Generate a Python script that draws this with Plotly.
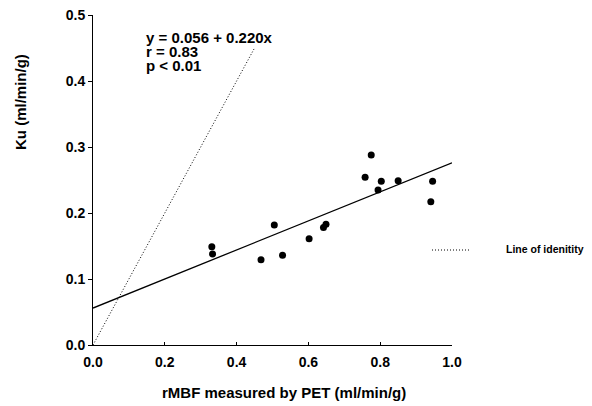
import plotly.graph_objects as go

# Data
rmbf = [0.331, 0.333, 0.468, 0.505, 0.528, 0.602, 0.642, 0.649,
        0.758, 0.775, 0.794, 0.803, 0.850, 0.941, 0.946]
ku = [0.149, 0.138, 0.129, 0.182, 0.136, 0.161, 0.178, 0.183,
      0.254, 0.288, 0.235, 0.248, 0.249, 0.217, 0.248]

intercept = 0.056
slope = 0.220
fit_x = [0.0, 1.0]
identity_x = [0.0, 0.45]

stats_lines = ["y = 0.056 + 0.220x", "r = 0.83", "p < 0.01"]
x_ticks = [0.0, 0.2, 0.4, 0.6, 0.8, 1.0]
y_ticks = [0.0, 0.1, 0.2, 0.3, 0.4, 0.5]
x_title = "rMBF measured by PET (ml/min/g)"
y_title = "Ku (ml/min/g)"
legend_label = "Line of idenitity"

FONT = "Liberation Sans, Arial, sans-serif"
DOT = "1px,2px"

W, H = 592, 406
L, T = 93, 15
R = W - 452
B = H - 345
pw, ph = W - L - R, H - T - B

def px(sx):
    return (sx - L) / pw

def py(sy):
    return (H - B - sy) / ph

fig = go.Figure()
fig.add_trace(go.Scatter(x=identity_x, y=identity_x, mode="lines",
                         line=dict(color="black", width=1, dash=DOT),
                         showlegend=False, hoverinfo="skip"))
fig.add_trace(go.Scatter(x=fit_x, y=[intercept + slope * v for v in fit_x],
                         mode="lines", line=dict(color="black", width=1.3),
                         showlegend=False, hoverinfo="skip"))
fig.add_trace(go.Scatter(x=rmbf, y=ku, mode="markers",
                         marker=dict(color="black", size=7),
                         showlegend=False))

annotations = []
for i, s in enumerate(stats_lines):
    annotations.append(dict(x=px(144), y=py(37 + 14 * i), xref="paper", yref="paper",
                            text=s, showarrow=False, xanchor="left", yanchor="middle",
                            font=dict(family=FONT, size=15, color="black", weight="bold")))
annotations.append(dict(x=px(284), y=py(392), xref="paper", yref="paper",
                        text=x_title, showarrow=False, xanchor="center", yanchor="middle",
                        font=dict(family=FONT, size=15, color="black", weight="bold")))
annotations.append(dict(x=px(20), y=py(102), xref="paper", yref="paper",
                        text=y_title, showarrow=False, textangle=-90,
                        xanchor="center", yanchor="middle",
                        font=dict(family=FONT, size=15, color="black", weight="bold")))
annotations.append(dict(x=px(504), y=py(249), xref="paper", yref="paper",
                        text=legend_label, showarrow=False, xanchor="left", yanchor="middle",
                        font=dict(family=FONT, size=10.5, color="black", weight="bold")))

shapes = [dict(type="line", xref="paper", yref="paper",
               x0=px(432), x1=px(471), y0=py(250), y1=py(250),
               line=dict(color="black", width=1, dash=DOT))]

fig.update_layout(
    width=W, height=H,
    margin=dict(l=L, r=R, t=T, b=B, autoexpand=False),
    paper_bgcolor="white", plot_bgcolor="white",
    font=dict(family=FONT, size=14, color="black", weight="bold"),
    annotations=annotations, shapes=shapes,
    xaxis=dict(range=[0, 1.0], tickvals=x_ticks, ticktext=[f"{v:.1f}" for v in x_ticks],
               showgrid=False, zeroline=False, showline=True, linecolor="black",
               linewidth=1, ticks="inside", ticklen=3, tickcolor="black",
               ticklabelstandoff=4, ticklabeloverflow="allow",
               automargin=False, fixedrange=True),
    yaxis=dict(range=[0, 0.5], tickvals=y_ticks, ticktext=[f"{v:.1f}" for v in y_ticks],
               showgrid=False, zeroline=False, showline=True, linecolor="black",
               linewidth=1, ticks="outside", ticklen=4, tickcolor="black",
               ticklabeloverflow="allow", automargin=False, fixedrange=True),
)

# remove the browser's default 8px body margin so the figure fills the window
fig.write_html("out.html",
               config={"displayModeBar": False},
               post_script="document.body.style.margin='0';document.body.style.overflow='hidden';")
